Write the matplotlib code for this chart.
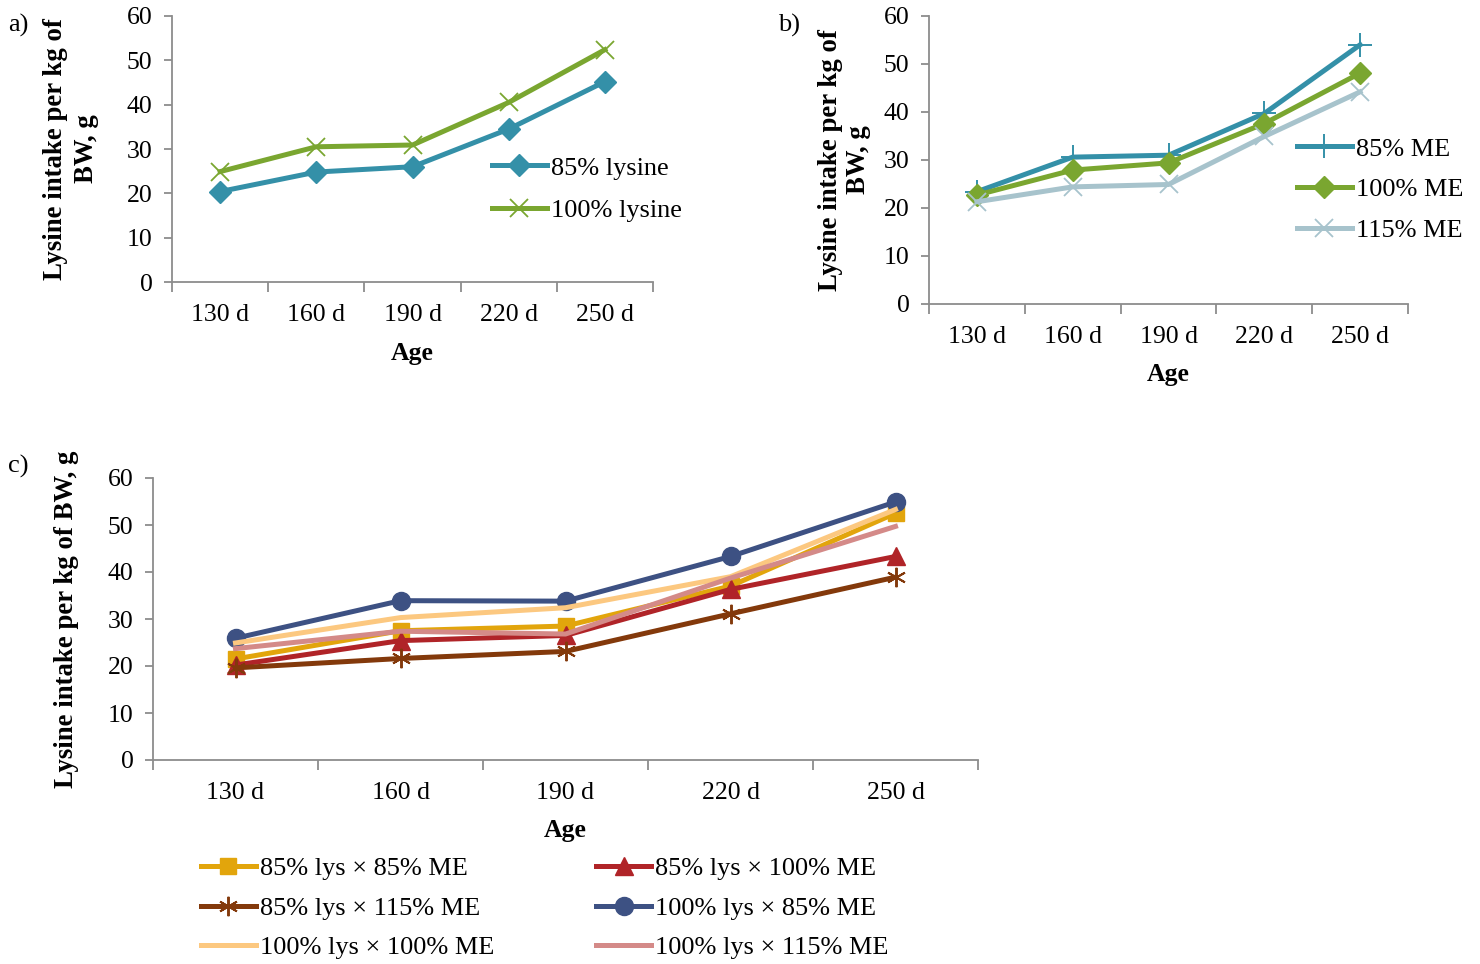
import matplotlib
matplotlib.use("Agg")
import matplotlib.pyplot as plt
from matplotlib.ticker import FixedLocator, NullFormatter

plt.rcParams['font.family'] = ['Liberation Serif', 'DejaVu Serif']

ages = ["130 d", "160 d", "190 d", "220 d", "250 d"]

# panel a: lysine level
lys_labels = ["85% lysine", "100% lysine"]
lys_85 = [20.4, 24.8, 26.0, 34.5, 45.2]
lys_100 = [24.9, 30.5, 30.9, 40.5, 52.4]

# panel b: energy level
me_labels = ["85% ME", "100% ME", "115% ME"]
me_85 = [23.4, 30.6, 31.0, 39.7, 54.0]
me_100 = [22.7, 27.9, 29.4, 37.6, 48.1]
me_115 = [21.3, 24.4, 24.9, 34.9, 44.2]

# panel c: lysine x energy combinations
combo_labels = ["85% lys \u00d7 85% ME", "85% lys \u00d7 100% ME",
                "85% lys \u00d7 115% ME", "100% lys \u00d7 85% ME",
                "100% lys \u00d7 100% ME", "100% lys \u00d7 115% ME"]
l85_e85 = [21.5, 27.5, 28.5, 37.0, 52.5]
l85_e100 = [20.2, 25.4, 26.5, 36.3, 43.3]
l85_e115 = [19.6, 21.6, 23.1, 31.1, 38.9]
l100_e85 = [25.9, 33.9, 33.8, 43.3, 54.9]
l100_e100 = [24.9, 30.3, 32.4, 39.0, 53.3]
l100_e115 = [23.7, 27.4, 26.8, 38.7, 49.7]

W, H = 1480, 964
fig = plt.figure(figsize=(W / 100, H / 100), dpi=100)

AX_COLOR = "#8c8c8c"
FS = 18.5
YFS = 19.3
LFS = 18.9
LW = 3.6


def px_axes(left, top, right, bottom):
    return fig.add_axes([left / W, 1 - bottom / H, (right - left) / W, (bottom - top) / H])


def style(ax):
    x = list(range(1, len(ages) + 1))
    ax.set_xlim(0.5, len(ages) + 0.5)
    ax.set_ylim(0, 60)
    ax.set_yticks(range(0, 61, 10))
    for s in ("top", "right"):
        ax.spines[s].set_visible(False)
    for s in ("left", "bottom"):
        ax.spines[s].set_color(AX_COLOR)
        ax.spines[s].set_linewidth(1.3)
    ax.xaxis.set_major_locator(FixedLocator([i + 0.5 for i in range(0, len(ages) + 1)]))
    ax.xaxis.set_major_formatter(NullFormatter())
    ax.xaxis.set_minor_locator(FixedLocator(x))
    ax.set_xticklabels(ages, minor=True)
    ax.tick_params(axis="x", which="major", length=7, width=1.3, color=AX_COLOR, direction="out")
    ax.tick_params(axis="x", which="minor", length=0, labelsize=FS, pad=16)
    ax.tick_params(axis="y", length=6, width=1.3, color=AX_COLOR, labelsize=FS, pad=8)
    return x


def legend_kw(x_px, y_px, spacing):
    return dict(loc="upper left", bbox_to_anchor=(x_px / W, 1 - y_px / H),
                bbox_transform=fig.transFigure, frameon=False, fontsize=LFS,
                handlelength=2.08, handletextpad=0.15, labelspacing=spacing, borderpad=0)


# ---------- a) ----------
axa = px_axes(172, 16, 653, 282)
x = style(axa)
axa.plot(x, lys_85, color="#3490a8", lw=LW, marker="D", ms=11, label=lys_labels[0])
axa.plot(x, lys_100, color="#7aa630", lw=LW, marker="x", ms=13, mew=1.3, label=lys_labels[1])
axa.set_xlabel("Age", fontsize=FS, fontweight="bold", labelpad=11)
axa.set_ylabel("Lysine intake per kg of\nBW, g", fontsize=YFS, fontweight="bold",
               linespacing=1.3, labelpad=20)
axa.legend(**legend_kw(479, 143, 0.72))
fig.text(8 / W, 1 - 25 / H, "a)", fontsize=FS + 0.5, va="center", ha="left")

# ---------- b) ----------
axb = px_axes(929, 16, 1408, 304)
x = style(axb)
axb.plot(x, me_85, color="#3490a8", lw=LW, marker="+", ms=17, mew=1.4, label=me_labels[0])
axb.plot(x, me_100, color="#7aa630", lw=LW, marker="D", ms=11, label=me_labels[1])
axb.plot(x, me_115, color="#a7c3cc", lw=LW, marker="x", ms=13, mew=1.3, label=me_labels[2])
axb.set_xlabel("Age", fontsize=FS, fontweight="bold", labelpad=11)
axb.set_ylabel("Lysine intake per kg of\nBW, g", fontsize=YFS, fontweight="bold",
               linespacing=1.12, labelpad=9.5)
axb.legend(**legend_kw(1284, 124, 0.67))
fig.text(778 / W, 1 - 25 / H, "b)", fontsize=FS + 0.5, va="center", ha="left")

# ---------- c) ----------
axc = px_axes(153, 478, 978, 760)
x = style(axc)
h = []
h += axc.plot(x, l85_e85, color="#e2a50c", lw=LW, marker="s", ms=12, label=combo_labels[0])
h += axc.plot(x, l85_e100, color="#b02428", lw=LW, marker="^", ms=13, label=combo_labels[1])
h += axc.plot(x, l85_e115, color="#83390b", lw=LW, marker=(6, 2, 0), ms=14, mew=1.4,
              label=combo_labels[2])
h += axc.plot(x, l100_e85, color="#3d5183", lw=LW, marker="o", ms=13, label=combo_labels[3])
h += axc.plot(x, l100_e100, color="#fcc880", lw=LW, label=combo_labels[4])
h += axc.plot(x, l100_e115, color="#d48a88", lw=LW, label=combo_labels[5])
axc.set_xlabel("Age", fontsize=FS, fontweight="bold", labelpad=11)
axc.set_ylabel("Lysine intake per kg of BW, g", fontsize=YFS, fontweight="bold", labelpad=21)
order = [0, 2, 4, 1, 3, 5]
axc.legend([h[i] for i in order], [combo_labels[i] for i in order], ncol=2,
           columnspacing=3.9, **legend_kw(188, 844, 0.61))
fig.text(8 / W, 1 - 466 / H, "c)", fontsize=FS + 0.5, va="center", ha="left")

fig.savefig("out.png", dpi=100)
